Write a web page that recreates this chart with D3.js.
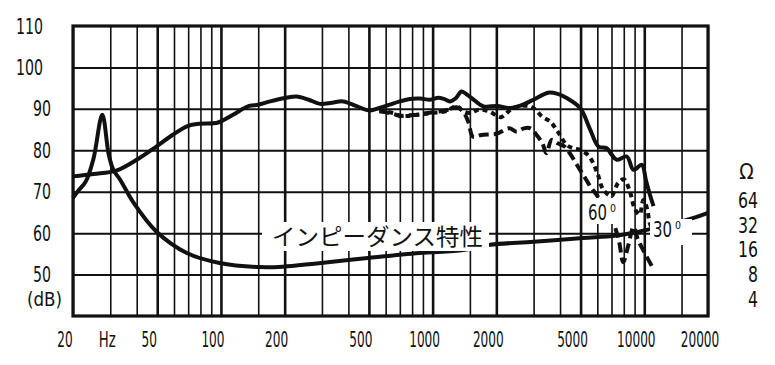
<!DOCTYPE html>
<html>
<head>
<meta charset="utf-8">
<script src="https://cdn.jsdelivr.net/npm/d3@7"></script>
<style>
body { margin: 0; background: #fff; }
text { font-family: "Liberation Sans Narrow", "DejaVu Sans Condensed", "Liberation Sans", sans-serif; fill: #111; }
</style>
</head>
<body>
<svg width="775" height="365"></svg>
<script>
// tick values and labels
const dbTicks = [110, 100, 90, 80, 70, 60, 50];
const freqLabels = [20, 50, 100, 200, 500, 1000, 2000, 5000, 10000, 20000];
const freqGrid = [20, 30, 40, 50, 60, 70, 80, 90, 100, 150, 200, 300, 400, 500, 600, 700, 800, 900,
    1000, 1500, 2000, 3000, 4000, 5000, 6000, 7000, 8000, 9000, 10000, 15000, 20000];
const majorGrid = [50, 100, 200, 500, 1000, 2000, 5000, 10000];
const ohmTicks = [64, 32, 16, 8, 4];

// [Hz, dB]
const response0 = [
    [20, 73.7], [25, 74.3], [32, 75.1], [40, 77.7], [49.5, 80.9], [59, 83.7], [70, 85.9], [79, 86.4],
    [97, 86.7], [114, 88.6], [136, 90.7], [150, 91.0], [171, 91.8], [200, 92.6], [228, 93.0], [260, 92.2],
    [294, 91.2], [335, 91.5], [378, 91.8], [440, 90.6], [505, 89.6], [560, 90.2], [626, 91.0], [700, 91.8],
    [781, 92.4], [873, 92.5], [973, 92.2], [1065, 92.7], [1130, 92.4], [1210, 91.8], [1290, 92.6],
    [1367, 94.2], [1440, 93.6], [1529, 92.6], [1739, 90.6], [2017, 90.7], [2292, 90.2], [2600, 90.8],
    [2992, 92.2], [3513, 93.9], [3900, 93.6], [4300, 92.6], [4978, 90.2], [5550, 85.0], [6074, 80.9],
    [6645, 80.5], [7000, 79.0], [7412, 77.7], [8267, 78.5], [8885, 75.3], [9734, 76.5], [10170, 72.9],
    [10600, 69.5], [11060, 66.5]
];
const response30 = [
    [560, 89.6], [650, 89.0], [700, 88.4], [760, 88.3], [850, 88.6], [1000, 89.0], [1150, 89.4],
    [1300, 90.6], [1400, 89.4], [1500, 89.0], [1650, 89.8], [1850, 89.4], [2100, 88.0], [2400, 90.2],
    [2900, 90.6], [3300, 88.1], [3600, 86.9], [3900, 84.5], [4300, 81.3], [4600, 80.5], [5000, 80.1],
    [5500, 78.5], [6000, 74.5], [6400, 70.5], [7000, 69.0], [7500, 72.0], [8000, 73.0], [8500, 70.5],
    [9000, 66.0], [9500, 64.5], [9900, 68.0], [10300, 66.0], [10600, 62.5], [10900, 61.0]
];
const response60 = [
    [560, 89.4], [650, 88.8], [700, 88.3], [760, 88.4], [850, 88.6], [1000, 89.2], [1150, 89.6],
    [1300, 90.4], [1400, 89.2], [1480, 86.6], [1550, 83.3], [1700, 83.7], [2000, 84.0], [2300, 85.3],
    [2500, 84.5], [2700, 85.3], [2900, 85.3], [3100, 83.7], [3300, 81.7], [3450, 79.3], [3650, 82.5],
    [3900, 81.7], [4200, 80.9], [4500, 78.9], [4800, 76.5], [5200, 73.7], [5600, 71.0], [6000, 69.0],
    [6600, 65.5], [7200, 62.0], [7600, 58.0], [7950, 53.0], [8400, 57.0], [8900, 61.5], [9340, 58.4],
    [10100, 55.0], [10870, 52.0]
];
const impedance = [
    [20, 68.5], [21, 70.0], [23, 72.5], [25, 78.0], [27.5, 88.6], [29.5, 79.0], [31, 75.3], [33.4, 72.9],
    [38.7, 67.3], [49.5, 60.4], [69, 55.2], [98.5, 52.8], [152, 51.8], [196, 51.9], [283, 52.7],
    [494, 54.0], [866, 55.2], [1400, 55.9], [1870, 57.2], [3000, 57.9], [5130, 58.8], [7380, 59.4],
    [10280, 60.8], [17100, 63.7], [20000, 64.9]
];

const plotLeft = 73, plotRight = 708, plotTop = 26, plotBottom = 316;

const svg = d3.select("svg");

const x = d3.scaleLog()
    .domain([20, 20000])
    .range([plotLeft, plotRight]);

const y = d3.scaleLinear()
    .domain([40, 110])
    .range([plotBottom, plotTop]);

const yOhm = d3.scaleLog().base(2)
    .domain([4, 64])
    .range([299, 200.6]);

// grid
svg.append("g")
    .attr("transform", `translate(0,${plotBottom})`)
    .call(d3.axisBottom(x).tickValues(freqGrid).tickSize(-(plotBottom - plotTop)).tickFormat(""))
    .call(g => g.select(".domain").remove())
    .call(g => g.selectAll("line")
        .attr("stroke", "#111")
        .attr("stroke-width", d => majorGrid.includes(d) ? 2.6 : 1.6));

svg.append("g")
    .attr("transform", `translate(${plotLeft},0)`)
    .call(d3.axisLeft(y).tickValues(dbTicks.filter(d => d < 110)).tickSize(-(plotRight - plotLeft)).tickFormat(""))
    .call(g => g.select(".domain").remove())
    .call(g => g.selectAll("line").attr("stroke", "#111").attr("stroke-width", 2));

// curves
const line = d3.line()
    .x(d => x(d[0]))
    .y(d => y(d[1]))
    .curve(d3.curveCatmullRom.alpha(0.5));

const curves = svg.append("g")
    .attr("fill", "none")
    .attr("stroke", "#111")
    .attr("stroke-linejoin", "round");

curves.append("path").attr("d", line(impedance)).attr("stroke-width", 4);
curves.append("path").attr("d", line(response0)).attr("stroke-width", 4);
curves.append("path").attr("d", line(response30)).attr("stroke-width", 4).attr("stroke-dasharray", "5,4");
curves.append("path").attr("d", line(response60)).attr("stroke-width", 4).attr("stroke-dasharray", "10,5");

// labels with white backing
svg.append("rect").attr("x", 262).attr("y", 222).attr("width", 227).attr("height", 29).attr("fill", "#fff");
svg.append("text")
    .attr("x", 272).attr("y", 245)
    .attr("textLength", 211).attr("lengthAdjust", "spacingAndGlyphs")
    .style("font-family", "'Noto Sans CJK JP', sans-serif")
    .style("font-size", "23px")
    .text("インピーダンス特性");

function angleLabel(txt, bx, by, bw, bh, tx, ty) {
    svg.append("rect").attr("x", bx).attr("y", by).attr("width", bw).attr("height", bh).attr("fill", "#fff");
    svg.append("text").attr("x", tx).attr("y", ty).style("font-size", "21px")
        .attr("textLength", 19).attr("lengthAdjust", "spacingAndGlyphs").text(txt);
    // small raised zero (degree mark)
    svg.append("text").attr("x", tx + 22).attr("y", ty - 8).style("font-size", "11px")
        .attr("textLength", 6).attr("lengthAdjust", "spacingAndGlyphs").text("0");
}
angleLabel("60", 585, 198, 35, 26, 588, 220);
angleLabel("30", 650, 219, 42, 26, 653, 237);

// plot border
svg.append("rect")
    .attr("x", plotLeft).attr("y", plotTop)
    .attr("width", plotRight - plotLeft).attr("height", plotBottom - plotTop)
    .attr("fill", "none").attr("stroke", "#111").attr("stroke-width", 3.2);

// left axis labels
svg.append("g").selectAll("text")
    .data(dbTicks)
    .join("text")
    .attr("x", d => String(d).length > 2 ? 43 : 51)
    .attr("y", d => y(d) + 7.5)
    .attr("text-anchor", "end")
    .attr("textLength", d => String(d).length * 9)
    .attr("lengthAdjust", "spacingAndGlyphs")
    .style("font-size", "21px")
    .text(d => d);

svg.append("text")
    .attr("x", 27).attr("y", 306)
    .attr("textLength", 35).attr("lengthAdjust", "spacingAndGlyphs")
    .style("font-size", "20px")
    .text("(dB)");

// bottom labels
svg.append("g").selectAll("text")
    .data(freqLabels)
    .join("text")
    .attr("x", d => x(d) - 8)
    .attr("y", 346.5)
    .attr("text-anchor", "middle")
    .attr("textLength", d => String(d).length * 7.7)
    .attr("lengthAdjust", "spacingAndGlyphs")
    .style("font-size", "21px")
    .text(d => d);

svg.append("text")
    .attr("x", x(30) - 3).attr("y", 346.5)
    .attr("text-anchor", "middle")
    .attr("textLength", 17).attr("lengthAdjust", "spacingAndGlyphs")
    .style("font-size", "21px")
    .text("Hz");

// impedance scale on the right
svg.append("g").selectAll("text")
    .data(ohmTicks)
    .join("text")
    .attr("x", 758)
    .attr("y", d => yOhm(d) + 7.5)
    .attr("text-anchor", "end")
    .attr("textLength", d => String(d).length * 10)
    .attr("lengthAdjust", "spacingAndGlyphs")
    .style("font-size", "21px")
    .text(d => d);

svg.append("text")
    .attr("x", 746.5).attr("y", yOhm(64) - 22)
    .attr("text-anchor", "middle")
    .style("font-size", "21px")
    .text("Ω");
</script>
</body>
</html>
